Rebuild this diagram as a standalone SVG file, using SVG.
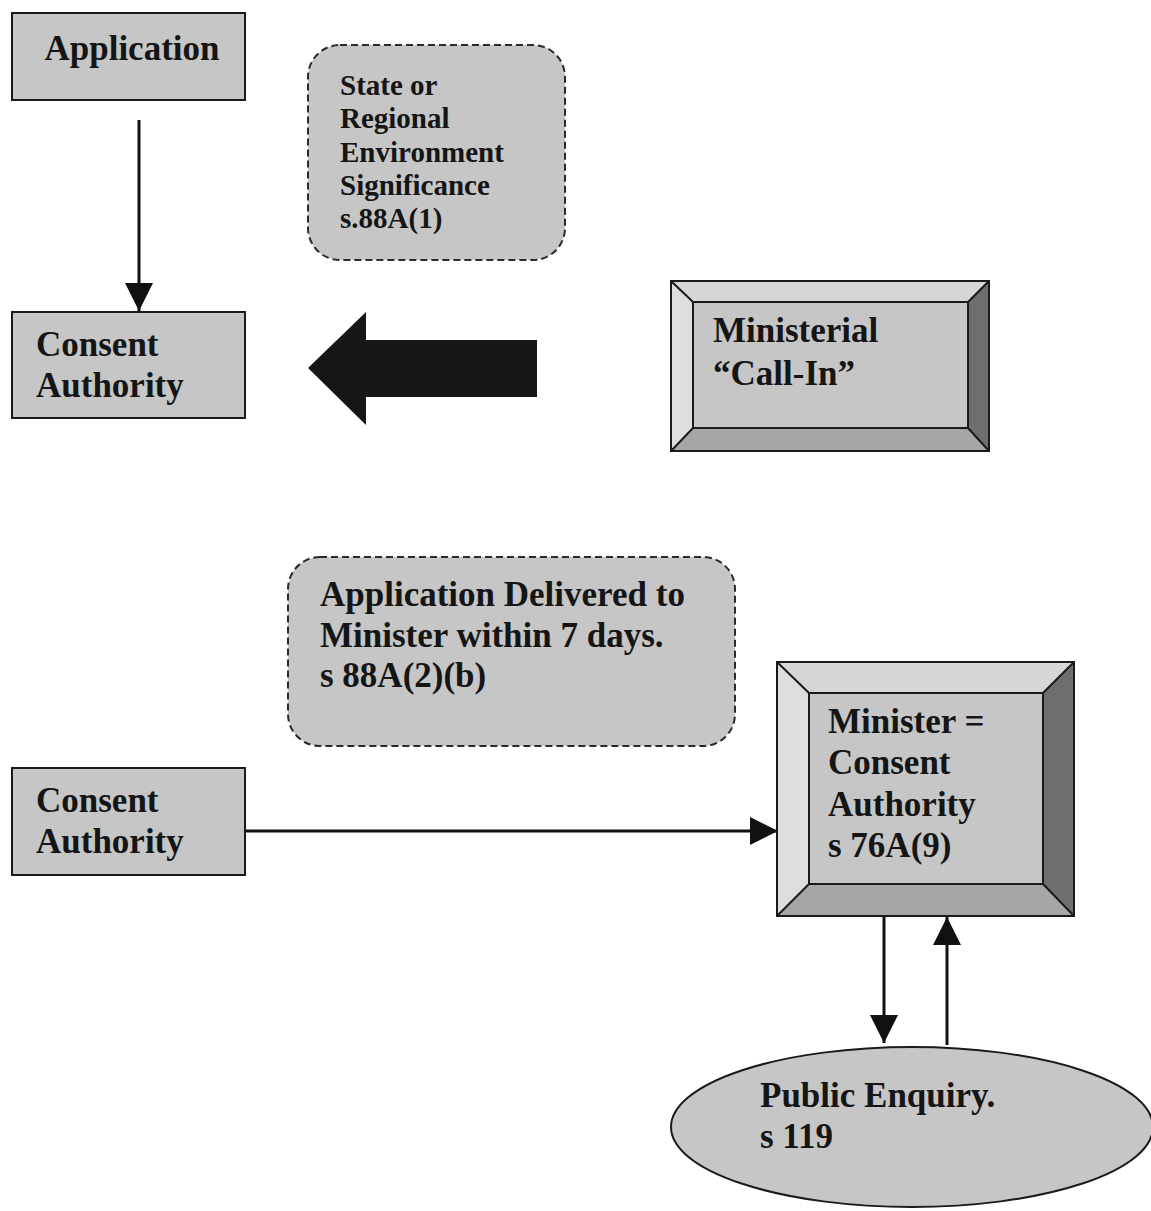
<svg xmlns="http://www.w3.org/2000/svg" width="1151" height="1211" viewBox="0 0 1151 1211">
  <style>
    .box { fill: #c6c6c6; stroke: #1a1a1a; stroke-width: 2; }
    .note { fill: #c6c6c6; stroke: #2a2a2a; stroke-width: 2; stroke-dasharray: 7 4; }
    .lbl { font-family: "Liberation Serif", "Times New Roman", serif; font-weight: bold; font-size: 35px; fill: #151515; }
    .lbl-s { font-size: 29px; }
    .wire { stroke: #111; stroke-width: 3; fill: none; }
    .bev-top { fill: #d6d6d6; }
    .bev-left { fill: #dedede; }
    .bev-right { fill: #6e6e6e; }
    .bev-bottom { fill: #a6a6a6; }
    .bev-edge { fill: none; stroke: #1a1a1a; stroke-width: 2; }
  </style>
  <defs>
    <marker id="head" viewBox="0 0 10 10" refX="10" refY="5" markerWidth="9.5" markerHeight="10" markerUnits="userSpaceOnUse" orient="auto">
      <path d="M0,0 L10,5 L0,10 Z" fill="#111"/>
    </marker>
    <marker id="headBig" viewBox="0 0 10 10" refX="10" refY="5" markerWidth="28" markerHeight="28" markerUnits="userSpaceOnUse" orient="auto">
      <path d="M0,0 L10,5 L0,10 Z" fill="#111"/>
    </marker>
  </defs>

  <rect width="1151" height="1211" fill="#ffffff"/>

  <!-- connectors -->
  <g id="connectors">
    <line class="wire" x1="139" y1="120" x2="139" y2="311" marker-end="url(#headBig)"/>
    <polygon points="308,368 366,312 366,340 537,340 537,397 366,397 366,425" fill="#161616"/>
    <line class="wire" x1="245" y1="831" x2="778" y2="831" marker-end="url(#headBig)"/>
    <line class="wire" x1="884" y1="916" x2="884" y2="1043" marker-end="url(#headBig)"/>
    <line class="wire" x1="947" y1="1045" x2="947" y2="917" marker-end="url(#headBig)"/>
  </g>

  <!-- Application -->
  <g id="application">
    <rect class="box" x="12" y="13" width="233" height="87"/>
    <text class="lbl" x="132" y="60" text-anchor="middle">Application</text>
  </g>

  <!-- Consent Authority (top) -->
  <g id="consent-authority-1">
    <rect class="box" x="12" y="312" width="233" height="106"/>
    <text class="lbl" x="36" y="356">Consent</text>
    <text class="lbl" x="36" y="397">Authority</text>
  </g>

  <!-- State or Regional Environment Significance -->
  <g id="significance-note">
    <rect class="note" x="308" y="45" width="257" height="215" rx="32" ry="32"/>
    <text class="lbl lbl-s" x="340" y="95">State or</text>
    <text class="lbl lbl-s" x="340" y="128">Regional</text>
    <text class="lbl lbl-s" x="340" y="162">Environment</text>
    <text class="lbl lbl-s" x="340" y="195">Significance</text>
    <text class="lbl lbl-s" x="340" y="228">s.88A(1)</text>
  </g>

  <!-- Ministerial Call-In (bevelled) -->
  <g id="ministerial-call-in">
    <rect class="box" x="671" y="281" width="318" height="170"/>
    <polygon class="bev-top" points="671,281 989,281 968,302 693,302"/>
    <polygon class="bev-left" points="671,281 693,302 693,428 671,451"/>
    <polygon class="bev-right" points="989,281 989,451 968,428 968,302"/>
    <polygon class="bev-bottom" points="671,451 693,428 968,428 989,451"/>
    <rect class="bev-edge" x="671" y="281" width="318" height="170"/>
    <rect class="bev-edge" x="693" y="302" width="275" height="126"/>
    <path class="bev-edge" d="M671,281 L693,302 M989,281 L968,302 M989,451 L968,428 M671,451 L693,428"/>
    <text class="lbl" x="713" y="342">Ministerial</text>
    <text class="lbl" x="713" y="385">“Call-In”</text>
  </g>

  <!-- Application Delivered to Minister -->
  <g id="delivery-note">
    <rect class="note" x="288" y="557" width="447" height="189" rx="32" ry="32"/>
    <text class="lbl" x="320" y="606">Application Delivered to</text>
    <text class="lbl" x="320" y="647">Minister within 7 days.</text>
    <text class="lbl" x="320" y="687">s 88A(2)(b)</text>
  </g>

  <!-- Consent Authority (bottom) -->
  <g id="consent-authority-2">
    <rect class="box" x="12" y="768" width="233" height="107"/>
    <text class="lbl" x="36" y="812">Consent</text>
    <text class="lbl" x="36" y="853">Authority</text>
  </g>

  <!-- Minister = Consent Authority (bevelled) -->
  <g id="minister-consent-authority">
    <rect class="box" x="777" y="662" width="297" height="254"/>
    <polygon class="bev-top" points="777,662 1074,662 1043,693 809,693"/>
    <polygon class="bev-left" points="777,662 809,693 809,884 777,916"/>
    <polygon class="bev-right" points="1074,662 1074,916 1043,884 1043,693"/>
    <polygon class="bev-bottom" points="777,916 809,884 1043,884 1074,916"/>
    <rect class="bev-edge" x="777" y="662" width="297" height="254"/>
    <rect class="bev-edge" x="809" y="693" width="234" height="191"/>
    <path class="bev-edge" d="M777,662 L809,693 M1074,662 L1043,693 M1074,916 L1043,884 M777,916 L809,884"/>
    <text class="lbl" x="828" y="733">Minister =</text>
    <text class="lbl" x="828" y="774">Consent</text>
    <text class="lbl" x="828" y="816">Authority</text>
    <text class="lbl" x="828" y="857">s 76A(9)</text>
  </g>

  <!-- Public Enquiry -->
  <g id="public-enquiry">
    <ellipse cx="912" cy="1127" rx="241" ry="80" fill="#c6c6c6" stroke="#1a1a1a" stroke-width="2"/>
    <text class="lbl" x="760" y="1107">Public Enquiry.</text>
    <text class="lbl" x="760" y="1148">s 119</text>
  </g>
</svg>
